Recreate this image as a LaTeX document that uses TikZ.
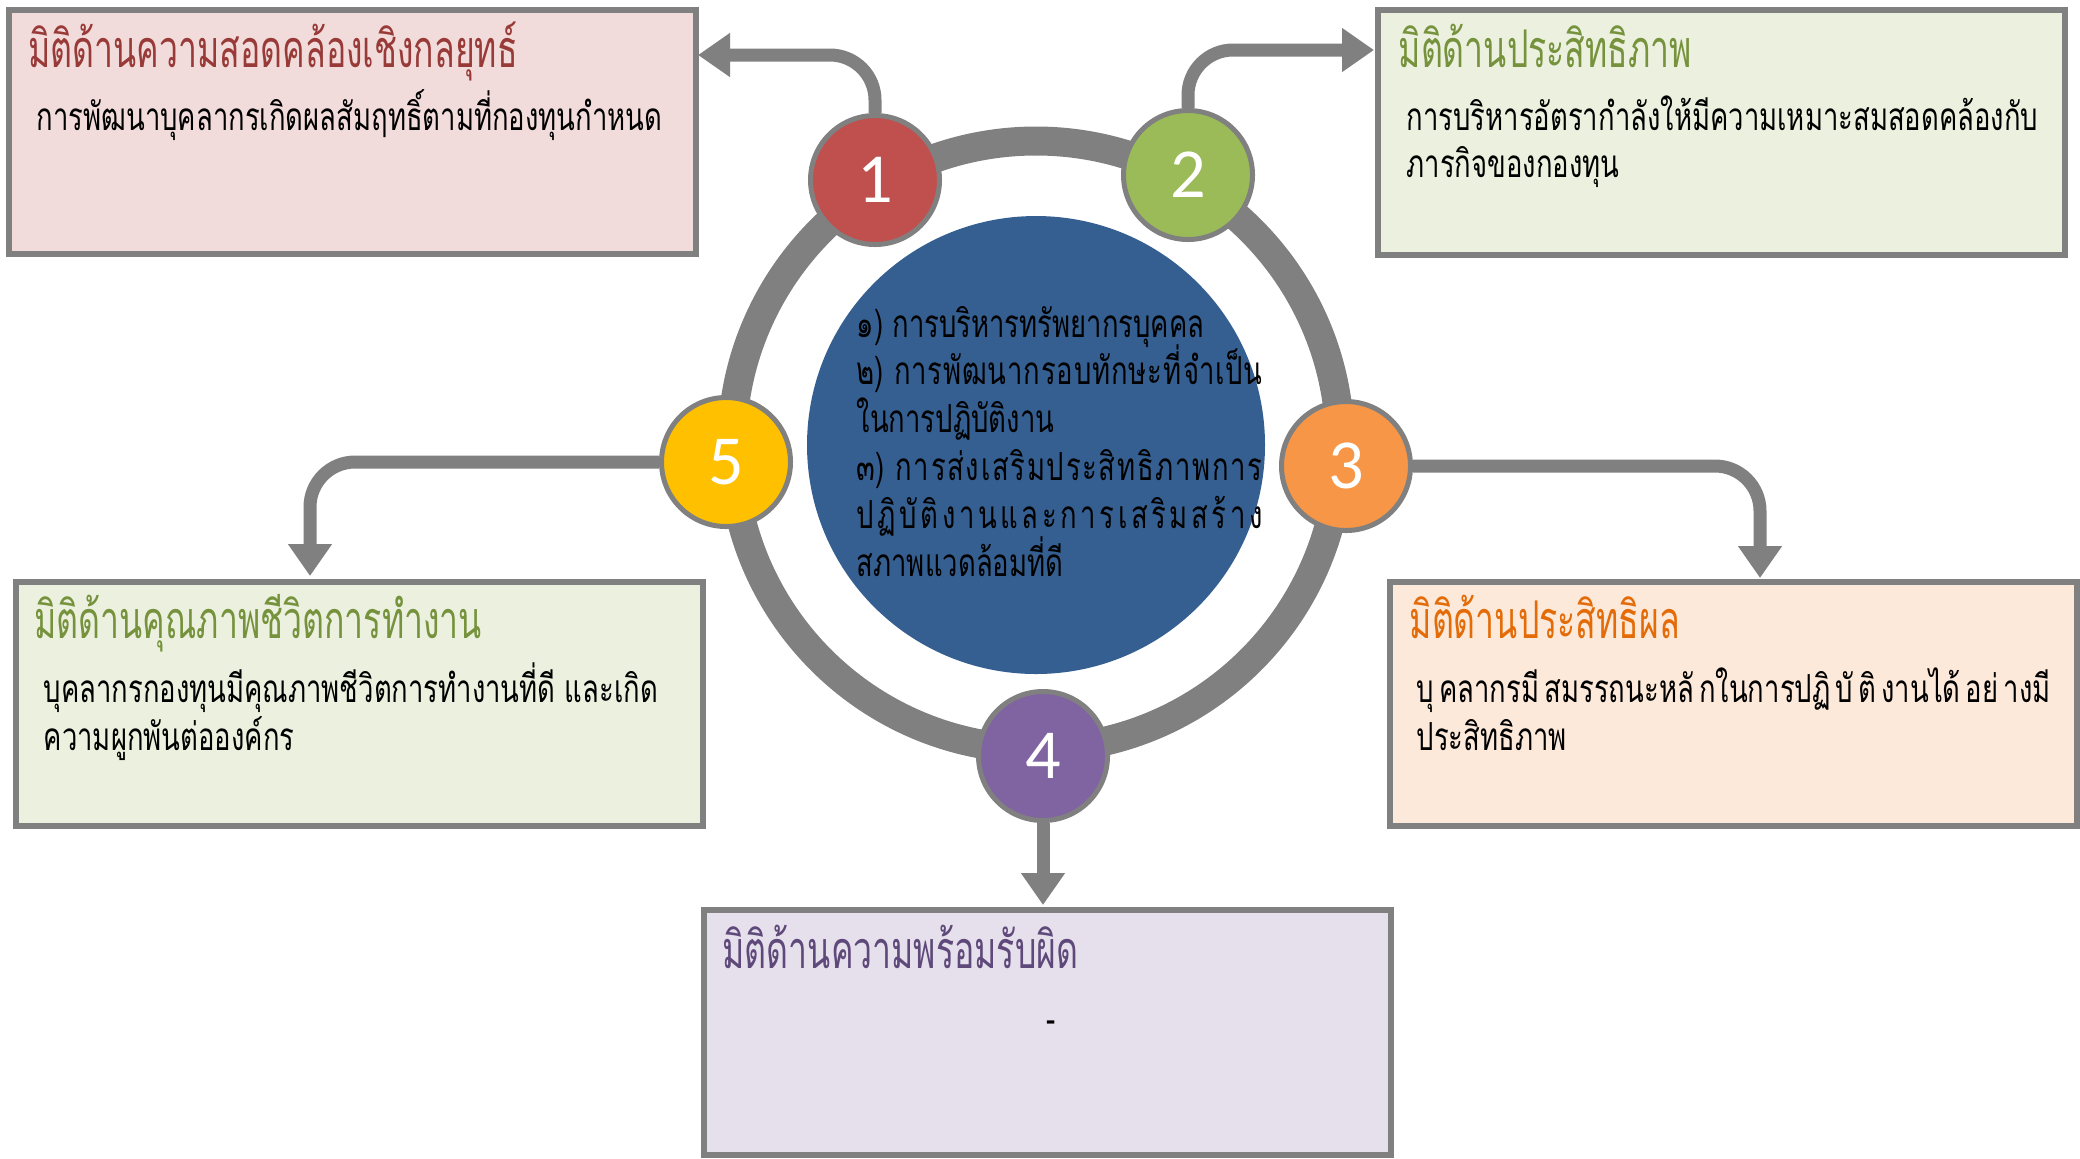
\documentclass[tikz,border=0pt]{standalone}
\usepackage{fontspec}
\usetikzlibrary{arrows.meta,calc}
\newfontfamily\thai[Script=Thai,FakeStretch=0.71]{Loma}
\newfontfamily\thaihead[Script=Thai,FakeStretch=0.65]{Loma}
\newfontfamily\numfont{Carlito}

\definecolor{edgegray}{HTML}{808080}
\definecolor{discblue}{HTML}{355F91}
\definecolor{cred}{HTML}{C0504D}
\definecolor{cgreen}{HTML}{9BBB59}
\definecolor{corange}{HTML}{F79646}
\definecolor{cpurple}{HTML}{8064A2}
\definecolor{cgold}{HTML}{FFC000}
\definecolor{fillpink}{HTML}{F2DCDB}
\definecolor{fillgreen}{HTML}{EBF1DE}
\definecolor{fillorange}{HTML}{FDE9D9}
\definecolor{fillpurple}{HTML}{E5E0EC}
\definecolor{tred}{HTML}{983A38}
\definecolor{tgreen}{HTML}{76923C}
\definecolor{torange}{HTML}{E36C09}
\definecolor{tpurple}{HTML}{5F497A}

\pgfdeclarelayer{bg}
\pgfsetlayers{bg,main}

\begin{document}
\begin{tikzpicture}[x=0.1mm,y=-0.1mm,
  panel/.style={draw=edgegray,line width=0.6mm,inner sep=0pt,
    minimum width=68.7mm,minimum height=24.45mm},
  badge/.style={circle,draw=edgegray,line width=0.5mm,minimum size=12.9mm,
    inner sep=0pt,text=white,font=\numfont\fontsize{20}{24}\selectfont},
  ttl/.style={anchor=base west,inner sep=0pt,font=\thaihead\fontsize{14.8}{17}\selectfont},
  txt/.style={anchor=base west,inner sep=0pt,text=black,font=\thai\fontsize{11}{13.5}\selectfont},
  flow/.style={draw=edgegray,line width=1.3mm,rounded corners=4.5mm,
    -{Triangle[length=3.2mm,width=4.2mm]}}]
\useasboundingbox (0,0) rectangle (2080,1158);

% outcome panels
\node[panel,fill=fillpink]   (p1) at (352,132)    {};
\node[panel,fill=fillgreen]  (p2) at (1721.5,132.5) {};
\node[panel,fill=fillgreen]  (p5) at (359,704)    {};
\node[panel,fill=fillorange] (p3) at (1733.5,704) {};
\node[panel,fill=fillpurple] (p4) at (1047,1032.5) {};

% ring and central disc
\begin{pgfonlayer}{bg}
  \draw[edgegray,line width=2.9mm] (1036,445) circle[radius=30.4mm];
  \fill[discblue] (1036,445) circle[radius=22.9mm];
\end{pgfonlayer}

% numbered badges
\node[badge,fill=cred]    (c1) at (875,180)  {1};
\node[badge,fill=cgreen]  (c2) at (1188,175) {2};
\node[badge,fill=corange] (c3) at (1346,466) {3};
\node[badge,fill=cpurple] (c4) at (1043,756) {4};
\node[badge,fill=cgold]   (c5) at (726,462)  {5};

% arrow end points on the panel edges
\coordinate (e1) at (698,55);
\coordinate (e2) at (1374,50);
\coordinate (e3) at (1760,578);
\coordinate (e4) at (1043,905);
\coordinate (e5) at (310,576);

\begin{pgfonlayer}{bg}
  \draw[flow] (c1.north) |- (e1);
  \draw[flow] (c2.north) |- (e2);
  \draw[flow] (c3.east) -| (e3);
  \draw[flow] (c4.south) -- (e4);
  \draw[flow] (c5.west) -| (e5);
\end{pgfonlayer}

% panel texts
\node[ttl,text=tred] (t1) at (28,67) {มิติด้านความสอดคล้องเชิงกลยุทธ์};
\node[txt] (d1) at (36,130) {การพัฒนาบุคลากรเกิดผลสัมฤทธิ์ตามที่กองทุนกำหนด};

\node[ttl,text=tgreen] (t2) at (1398,67) {มิติด้านประสิทธิภาพ};
\node[txt] (d2a) at (1406,130) {การบริหารอัตรากำลังให้มีความเหมาะสมสอดคล้องกับ};
\node[txt] (d2b) at (1406,177) {ภารกิจของกองทุน};

\node[ttl,text=tgreen] (t5) at (34,638) {มิติด้านคุณภาพชีวิตการทำงาน};
\node[txt] (d5a) at (43,702) {บุคลากรกองทุนมีคุณภาพชีวิตการทำงานที่ดี และเกิด};
\node[txt] (d5b) at (43,750) {ความผูกพันต่อองค์กร};

\node[ttl,text=torange] (t3) at (1409,638) {มิติด้านประสิทธิผล};
\node[txt] (d3a) at (1416,702) {\hbox to 63.4mm{บุ\hfil คลากรมี\hfil สมรรถนะหลั\hfil กในการปฏิ\hfil บั\hfil ติ\hfil งานได้\hfil อย่\hfil างมี}};
\node[txt] (d3b) at (1416,750) {ประสิทธิภาพ};

\node[ttl,text=tpurple] (t4) at (722,968) {มิติด้านความพร้อมรับผิด};
\node[txt,anchor=base] (d4) at (1051,1032) {-};

% text inside the central disc
\node[txt] (m1) at (856,337) {๑) การบริหารทรัพยากรบุคคล};
\node[txt] (m2) at (856,384) {\hbox to 40.6mm{๒)\ \hfill ก\hfill า\hfill ร\hfill พั\hfill ฒ\hfill น\hfill า\hfill ก\hfill ร\hfill อ\hfill บ\hfill ทั\hfill ก\hfill ษ\hfill ะ\hfill ที่\hfill\hfill จำ\hfill เ\hfill ป็\hfill น}};
\node[txt] (m3) at (856,432) {ในการปฏิบัติงาน};
\node[txt] (m4) at (856,480) {\hbox to 40.6mm{๓)\ \hfill ก\hfill า\hfill ร\hfill ส่\hfill ง\hfill เ\hfill ส\hfill ริ\hfill ม\hfill ป\hfill ร\hfill ะ\hfill สิ\hfill ท\hfill ธิ\hfill ภ\hfill า\hfill พ\hfill ก\hfill า\hfill ร}};
\node[txt] (m5) at (856,528) {\hbox to 40.6mm{ป\hfill ฏิ\hfill บั\hfill ติ\hfill ง\hfill า\hfill น\hfill แ\hfill ล\hfill ะ\hfill ก\hfill า\hfill ร\hfill เ\hfill ส\hfill ริ\hfill ม\hfill ส\hfill ร้\hfill า\hfill ง}};
\node[txt] (m6) at (856,576) {สภาพแวดล้อมที่ดี};
\end{tikzpicture}
\end{document}
